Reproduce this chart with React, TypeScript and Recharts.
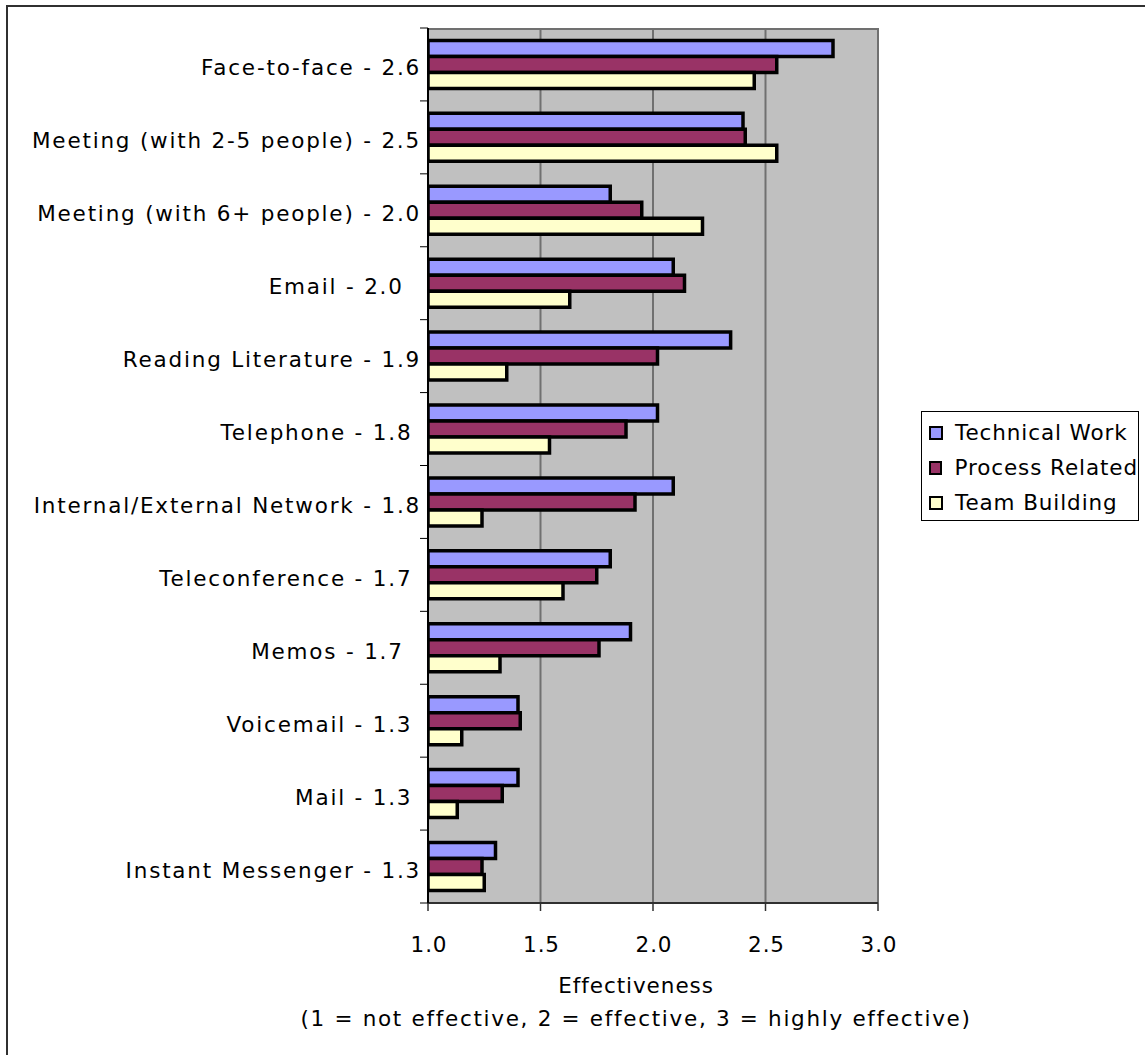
import React from 'react';
import { BarChart, Bar, XAxis, YAxis, CartesianGrid, Legend, Label } from 'recharts';

// Communication channels, rated by average effectiveness (1 = not, 3 = highly)
const categories = [
  'Face-to-face - 2.6',
  'Meeting (with 2-5 people) - 2.5',
  'Meeting (with 6+ people) - 2.0',
  'Email - 2.0  ',
  'Reading Literature - 1.9',
  'Telephone - 1.8 ',
  'Internal/External Network - 1.8',
  'Teleconference - 1.7 ',
  'Memos - 1.7  ',
  'Voicemail - 1.3 ',
  'Mail - 1.3 ',
  'Instant Messenger - 1.3',
];
const technicalWork = [2.8, 2.4, 1.81, 2.09, 2.345, 2.02, 2.09, 1.81, 1.9, 1.4, 1.4, 1.3];
const processRelated = [2.55, 2.41, 1.95, 2.14, 2.02, 1.88, 1.92, 1.75, 1.76, 1.41, 1.33, 1.24];
const teamBuilding = [2.45, 2.55, 2.22, 1.63, 1.35, 1.54, 1.24, 1.6, 1.32, 1.15, 1.13, 1.25];
const xTicks = [1.0, 1.5, 2.0, 2.5, 3.0];
const seriesOrder = ['technical', 'process', 'team'];

const data = categories.map((name, i) => ({
  name,
  technical: technicalWork[i],
  process: processRelated[i],
  team: teamBuilding[i],
}));

const W = 1145;
const H = 1055;
const MARGIN = { top: 28, right: 267, bottom: 0, left: 0 };
const Y_AXIS_W = 428;
const X_AXIS_H = 152;
const PLOT_H = H - MARGIN.top - MARGIN.bottom - X_AXIS_H;
const BAND = PLOT_H / categories.length;
const FONT = '"DejaVu Sans", Verdana, sans-serif';
const FS = 21.5;

// Category label plus Excel-style tick marks on the band boundaries
const CategoryTick = (props: any) => {
  const { x, y, payload, index } = props;
  return (
    <g>
      <text
        x={x - 7}
        y={y + 11}
        textAnchor="end"
        fontSize={FS}
        letterSpacing={1.8}
        fill="#000"
        style={{ whiteSpace: 'pre' }}
      >
        {payload.value}
      </text>
      <line x1={x - 8} x2={x} y1={y + BAND / 2} y2={y + BAND / 2} stroke="#000" strokeWidth={1} />
      {index === 0 && (
        <line x1={x - 8} x2={x} y1={y - BAND / 2} y2={y - BAND / 2} stroke="#000" strokeWidth={1} />
      )}
    </g>
  );
};

const ValueTick = (props: any) => {
  const { x, y, payload } = props;
  return (
    <text x={x + 1} y={y + 39} textAnchor="middle" fontSize={FS} letterSpacing={0.9} fill="#000">
      {Number(payload.value).toFixed(1)}
    </text>
  );
};

const AxisTitle = (props: any) => {
  const { viewBox } = props;
  const cx = viewBox.x + viewBox.width / 2 - 17;
  return (
    <g>
      <text x={cx} y={viewBox.y + 90} textAnchor="middle" fontSize={FS} letterSpacing={0.95} fill="#000">
        Effectiveness
      </text>
      <text x={cx} y={viewBox.y + 123} textAnchor="middle" fontSize={FS} letterSpacing={1.7} fill="#000">
        (1 = not effective, 2 = effective, 3 = highly effective)
      </text>
    </g>
  );
};

const LegendBox = (props: any) => {
  const { payload } = props;
  return (
    <div
      style={{
        width: 218,
        height: 110,
        boxSizing: 'border-box',
        border: '1px solid #000',
        background: '#fff',
        paddingTop: 3,
        fontFamily: FONT,
      }}
    >
      {(payload || []).map((entry: any) => (
        <div key={entry.value} style={{ display: 'flex', alignItems: 'center', height: 35 }}>
          <span
            style={{
              display: 'inline-block',
              width: 10,
              height: 10,
              marginLeft: 7,
              border: '2px solid #000',
              background: entry.color,
            }}
          />
          <span
            style={{
              marginLeft: 12,
              fontSize: FS,
              letterSpacing: 0.9,
              color: '#000',
              whiteSpace: 'nowrap',
            }}
          >
            {entry.value}
          </span>
        </div>
      ))}
    </div>
  );
};

export default function App() {
  return (
    <div
      style={{
        position: 'absolute',
        left: 0,
        top: 0,
        width: W,
        height: H,
        overflow: 'hidden',
        background: '#fff',
        fontFamily: FONT,
      }}
    >
      <div
        style={{
          position: 'absolute',
          left: 6,
          top: 5,
          width: W + 40,
          height: H + 40,
          border: '2px solid #303030',
        }}
      />
      <BarChart
        width={W}
        height={H}
        data={data}
        layout="vertical"
        margin={MARGIN}
        barCategoryGap="17%"
        barGap={0}
      >
        <CartesianGrid
          fill="#C0C0C0"
          stroke="#707070"
          strokeWidth={2}
          horizontal={true}
          vertical={true}
          horizontalCoordinatesGenerator={({ offset }: any) => [offset.top + 1]}
        />
        <XAxis
          type="number"
          domain={[1, 3]}
          ticks={xTicks}
          allowDataOverflow
          height={X_AXIS_H}
          tick={<ValueTick />}
          tickSize={8}
          axisLine={{ stroke: '#303030', strokeWidth: 2 }}
          tickLine={{ stroke: '#303030', strokeWidth: 1.5 }}
        >
          <Label content={<AxisTitle />} />
        </XAxis>
        <YAxis
          type="category"
          dataKey="name"
          width={Y_AXIS_W}
          tick={<CategoryTick />}
          tickSize={0}
          tickMargin={0}
          tickLine={false}
          interval={0}
          axisLine={{ stroke: '#000', strokeWidth: 2 }}
        />
        <Legend
          layout="vertical"
          align="center"
          verticalAlign="middle"
          itemSorter={(item: any) => seriesOrder.indexOf(item.dataKey)}
          wrapperStyle={{ left: 921, top: 411, width: 218, height: 110 }}
          content={<LegendBox />}
        />
        <Bar dataKey="technical" name="Technical Work" fill="#9999FF" stroke="#000" strokeWidth={3.5} isAnimationActive={false} />
        <Bar dataKey="process" name="Process Related" fill="#993366" stroke="#000" strokeWidth={3.5} isAnimationActive={false} />
        <Bar dataKey="team" name="Team Building" fill="#FFFFCC" stroke="#000" strokeWidth={3.5} isAnimationActive={false} />
      </BarChart>
    </div>
  );
}
